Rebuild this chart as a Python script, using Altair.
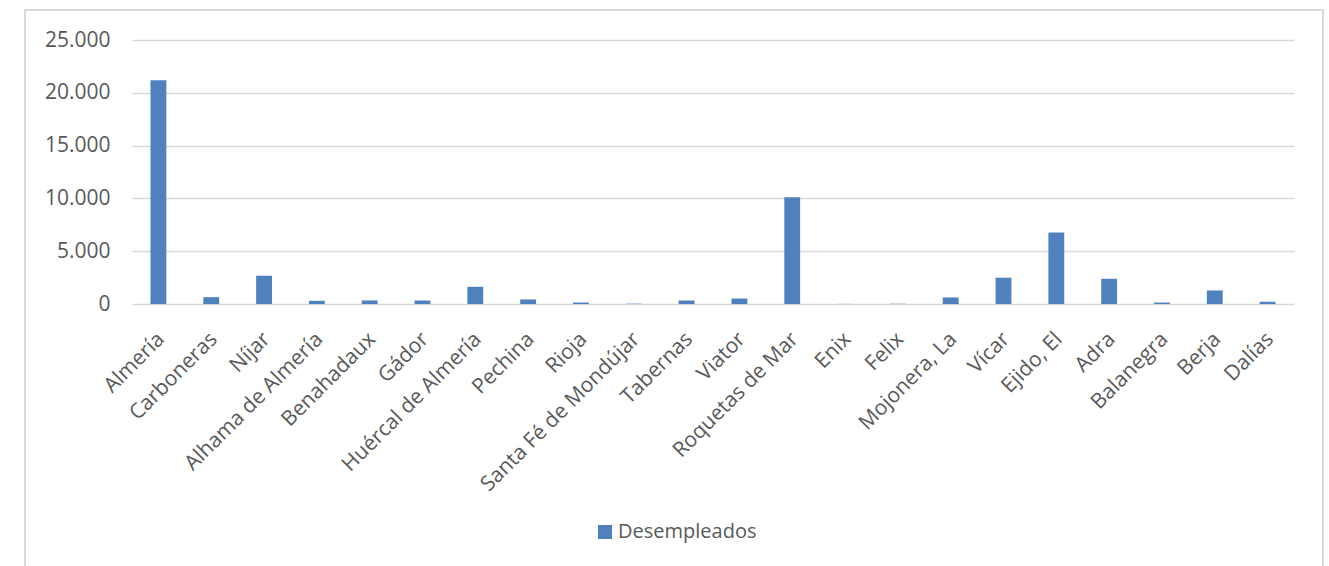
import altair as alt
import pandas as pd

# Registered unemployed by municipality
municipios = [
    "Almería", "Carboneras", "Níjar", "Alhama de Almería", "Benahadaux",
    "Gádor", "Huércal de Almería", "Pechina", "Rioja", "Santa Fé de Mondújar",
    "Tabernas", "Viator", "Roquetas de Mar", "Enix", "Felix", "Mojonera, La",
    "Vícar", "Ejido, El", "Adra", "Balanegra", "Berja", "Dalías",
]
desempleados = [
    21200, 650, 2680, 300, 340,
    330, 1630, 430, 140, 30,
    330, 520, 10100, 10, 25, 620,
    2490, 6760, 2390, 140, 1280, 210,
]
y_ticks = [0, 5000, 10000, 15000, 20000, 25000]

df = pd.DataFrame({
    "Municipio": municipios,
    "Desempleados": desempleados,
    "Serie": ["Desempleados"] * len(municipios),
})

FONT = "Open Sans"
TEXT = "#595959"
GRID = "#d9d9d9"
BLUE = "#4f81bd"

W, H = 1162, 264

bars = alt.Chart(df).mark_bar(color=BLUE).encode(
    x=alt.X(
        "Municipio:N",
        sort=municipios,
        title=None,
        scale=alt.Scale(paddingInner=0.7, paddingOuter=0.35),
        axis=alt.Axis(
            labelAngle=-45,
            labelFont=FONT,
            labelFontSize=21,
            labelColor=TEXT,
            labelPadding=24,
            labelOffset=-5,
            ticks=False,
            domain=False,
            labelOverlap=False,
            labelLimit=400,
        ),
    ),
    y=alt.Y(
        "Desempleados:Q",
        title=None,
        scale=alt.Scale(domain=[0, 25000], nice=False),
        axis=alt.Axis(
            values=y_ticks,
            labelExpr="replace(format(datum.value, ','), ',', '.')",
            labelFont=FONT,
            labelFontSize=21,
            labelColor=TEXT,
            labelPadding=22,
            ticks=False,
            domain=False,
            grid=True,
            gridColor=GRID,
            gridWidth=1.5,
        ),
    ),
    fill=alt.Fill(
        "Serie:N",
        scale=alt.Scale(range=[BLUE]),
        legend=alt.Legend(
            title=None,
            orient="none",
            legendX=463,
            legendY=482,
            symbolType="square",
            symbolSize=196,
            symbolStrokeWidth=0,
            labelFont=FONT,
            labelFontSize=20,
            labelColor=TEXT,
            labelOffset=3,
        ),
    ),
)

# light outer frame around the chart
frame = alt.Chart(df).mark_rect(
    fill=None, stroke=GRID, strokeWidth=1.5, clip=False
).encode(
    x=alt.value(-107), x2=alt.value(1191),
    y=alt.value(-30), y2=alt.value(560),
)

chart = alt.layer(frame, bars).properties(
    width=W,
    height=H,
    padding={"left": 132, "top": 40, "right": 35, "bottom": 262},
    autosize=alt.AutoSizeParams(type="none"),
    background="white",
).configure_view(stroke=None)

chart.save("out.html", embed_options={"renderer": "svg", "actions": False})
